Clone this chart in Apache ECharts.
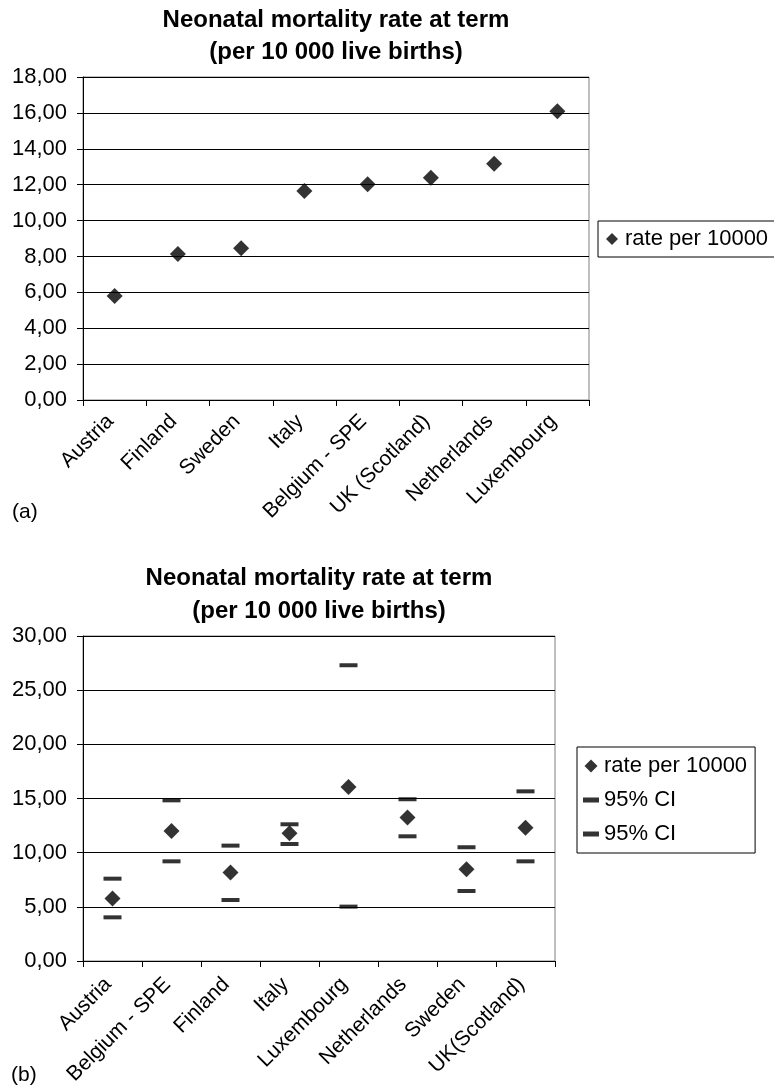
<!DOCTYPE html>
<html>
<head>
<meta charset="utf-8">
<script src="https://cdn.jsdelivr.net/npm/echarts@6/dist/echarts.min.js"></script>
<style>
html,body{margin:0;padding:0;background:#fff;}
#c{width:774px;height:1088px;}
</style>
</head>
<body>
<div id="c"></div>
<script>
// ---- data ----
var titleText = 'Neonatal mortality rate at term\n(per 10 000 live births)';
var catsA = ['Austria', 'Finland', 'Sweden', 'Italy', 'Belgium - SPE', 'UK (Scotland)', 'Netherlands', 'Luxembourg'];
var rateA = [5.80, 8.13, 8.46, 11.65, 12.03, 12.38, 13.16, 16.09];

var catsB = ['Austria', 'Belgium - SPE', 'Finland', 'Italy', 'Luxembourg', 'Netherlands', 'Sweden', 'UK(Scotland)'];
var rateB = [5.76, 12.00, 8.16, 11.80, 16.06, 13.24, 8.46, 12.31];
var ciUpperB = [7.60, 14.83, 10.65, 12.62, 27.30, 14.93, 10.50, 15.66];
var ciLowerB = [4.03, 9.20, 5.63, 10.80, 5.02, 11.51, 6.46, 9.20];

var seriesNameRate = 'rate per 10000';
var seriesNameCI1 = '95% CI';
var seriesNameCI2 = '95% CI ';

var FONT = 'Liberation Sans, Arial, sans-serif';
var DIAMOND_ICON = 'path://M5,0L10,5L5,10L0,5Z';
var DASH_ICON = 'path://M0,0L16,0L16,5L0,5Z';

function fmt(v) { return v.toFixed(2).replace('.', ','); }

function yAxis(gridIndex, max, interval) {
  return {
    type: 'value', gridIndex: gridIndex, min: 0, max: max, interval: interval,
    axisLine: { show: true, lineStyle: { color: '#000', width: 1 } },
    axisTick: { show: true, length: 6, lineStyle: { color: '#000' } },
    axisLabel: { formatter: fmt, fontSize: 22, color: '#000', fontFamily: FONT, margin: 16 },
    splitLine: { show: true, lineStyle: { color: '#000', width: 1 } }
  };
}
function xAxis(gridIndex, cats, margin) {
  return {
    type: 'category', gridIndex: gridIndex, data: cats, boundaryGap: true,
    axisLine: { show: true, lineStyle: { color: '#000', width: 1 } },
    axisTick: { show: true, length: 6, lineStyle: { color: '#000' } },
    axisLabel: { rotate: 45, fontSize: 21, color: '#000', fontFamily: FONT, margin: margin,
                 interval: 0, padding: [0, 6, 0, 0] },
    splitLine: { show: false }
  };
}

var chart = echarts.init(document.getElementById('c'), null, { renderer: 'canvas' });
chart.setOption({
  animation: false,
  backgroundColor: '#fff',
  title: [
    { text: titleText, left: 336, top: 4, textAlign: 'center', padding: 0,
      textStyle: { fontSize: 24, fontWeight: 'bold', color: '#000', fontFamily: FONT, lineHeight: 32 } },
    { text: titleText, left: 319, top: 562, textAlign: 'center', padding: 0,
      textStyle: { fontSize: 24, fontWeight: 'bold', color: '#000', fontFamily: FONT, lineHeight: 33 } },
    { text: '(a)', left: 12, top: 500, padding: 0,
      textStyle: { fontSize: 21, fontWeight: 'normal', color: '#000', fontFamily: FONT, lineHeight: 24 } },
    { text: '(b)', left: 11, top: 1063, padding: 0,
      textStyle: { fontSize: 21, fontWeight: 'normal', color: '#000', fontFamily: FONT, lineHeight: 24 } }
  ],
  legend: [
    { left: 598, top: 221, orient: 'vertical', padding: [6, 10, 6, 8],
      borderColor: '#000', borderWidth: 1, itemWidth: 16, itemHeight: 12, selectedMode: false,
      textStyle: { fontSize: 22, color: '#000', fontFamily: FONT, lineHeight: 24 },
      data: [{ name: seriesNameRate, icon: DIAMOND_ICON }] },
    { left: 577, top: 747, orient: 'vertical', padding: [7, 8, 7, 6], itemGap: 10,
      borderColor: '#000', borderWidth: 1, itemWidth: 16, itemHeight: 13, selectedMode: false,
      textStyle: { fontSize: 22, color: '#000', fontFamily: FONT, lineHeight: 24 },
      data: [{ name: seriesNameRate, icon: DIAMOND_ICON },
             { name: seriesNameCI1, icon: DASH_ICON },
             { name: seriesNameCI2, icon: DASH_ICON }] }
  ],
  grid: [
    { left: 83, top: 77, width: 506, height: 323, show: true, borderColor: '#808080', borderWidth: 1, containLabel: false },
    { left: 83, top: 636, width: 472, height: 325, show: true, borderColor: '#808080', borderWidth: 1, containLabel: false }
  ],
  xAxis: [xAxis(0, catsA, 14), xAxis(1, catsB, 16)],
  yAxis: [yAxis(0, 18, 2), yAxis(1, 30, 5)],
  series: [
    { name: seriesNameRate, type: 'scatter', xAxisIndex: 0, yAxisIndex: 0, data: rateA,
      symbol: 'diamond', symbolSize: 16, itemStyle: { color: '#000' } },
    { name: seriesNameCI1, type: 'scatter', xAxisIndex: 1, yAxisIndex: 1, data: ciUpperB,
      symbol: 'rect', symbolSize: [18, 4], itemStyle: { color: '#000' } },
    { name: seriesNameCI2, type: 'scatter', xAxisIndex: 1, yAxisIndex: 1, data: ciLowerB,
      symbol: 'rect', symbolSize: [18, 4], itemStyle: { color: '#000' } },
    { name: seriesNameRate, type: 'scatter', xAxisIndex: 1, yAxisIndex: 1, data: rateB,
      symbol: 'diamond', symbolSize: 16, itemStyle: { color: '#000' } }
  ]
});
</script>
</body>
</html>
